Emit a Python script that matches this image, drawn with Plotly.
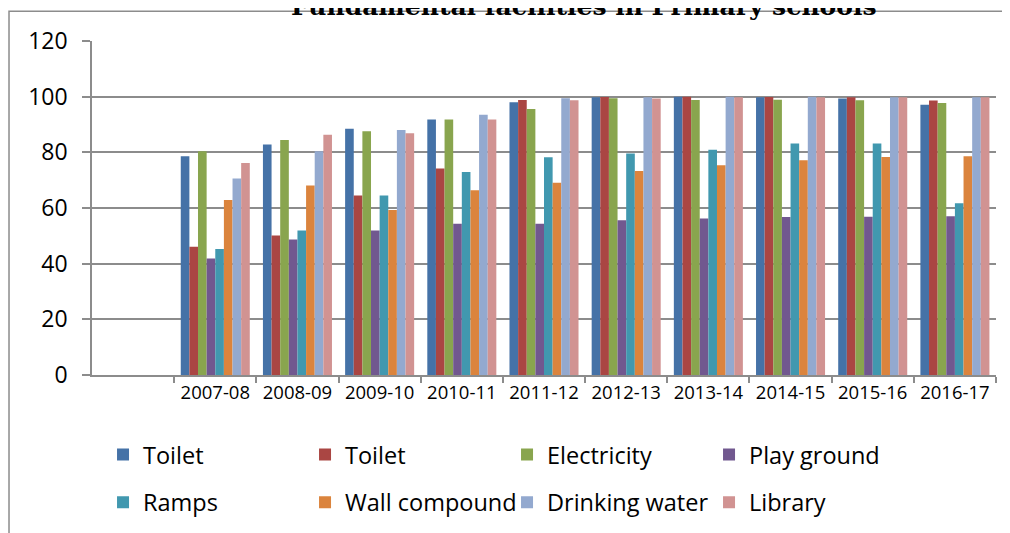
import plotly.graph_objects as go

years = ["2007-08", "2008-09", "2009-10", "2010-11", "2011-12",
         "2012-13", "2013-14", "2014-15", "2015-16", "2016-17"]

toilet_a = [78.6, 82.8, 88.5, 91.8, 98.0, 99.8, 100.0, 99.8, 99.3, 97.1]
toilet_b = [46.1, 50.1, 64.5, 74.2, 98.8, 99.9, 100.0, 99.9, 99.8, 98.6]
electricity = [80.4, 84.4, 87.6, 91.8, 95.6, 99.4, 98.8, 98.9, 98.7, 97.7]
play_ground = [41.9, 48.7, 51.9, 54.3, 54.3, 55.6, 56.2, 56.8, 56.9, 57.0]
ramps = [45.3, 51.9, 64.5, 72.9, 78.2, 79.6, 80.9, 83.2, 83.2, 61.7]
wall_compound = [62.9, 68.1, 59.3, 66.4, 69.1, 73.3, 75.4, 77.2, 78.3, 78.6]
drinking_water = [70.6, 80.4, 88.0, 93.5, 99.4, 99.8, 100.0, 100.0, 99.8, 99.8]
library = [76.2, 86.3, 86.9, 91.8, 98.7, 99.3, 99.8, 99.8, 99.8, 99.8]

series_names = ["Toilet", "Toilet", "Electricity", "Play ground",
                "Ramps", "Wall compound", "Drinking water", "Library"]
series_values = [toilet_a, toilet_b, electricity, play_ground,
                 ramps, wall_compound, drinking_water, library]
colors = ["#4572A7", "#AA4643", "#89A54E", "#71588F",
          "#4198AF", "#DB843D", "#93A9CF", "#D19392"]

title_text = "Fundamental facilities in Primary schools"

FONT = "Open Sans"
GRID = "#8c8c8c"

fig = go.Figure()
for i, (name, vals, col) in enumerate(zip(series_names, series_values, colors)):
    fig.add_trace(go.Bar(
        x=years, y=vals, name=name,
        marker=dict(color=col, line=dict(width=0)),
        legend="legend" if i < 4 else "legend2",
    ))

fig.update_layout(
    width=1010, height=533,
    margin=dict(l=84, r=22, t=33, b=166, autoexpand=False),
    paper_bgcolor="white", plot_bgcolor="white",
    barmode="group", bargap=0.16, bargroupgap=0,
    showlegend=True,
    font=dict(family=FONT, color="black"),
    legend=dict(orientation="h", x=0.0122, xanchor="left", y=-0.173, yanchor="top",
                entrywidth=157, entrywidthmode="pixels",
                font=dict(family=FONT, size=23.5, color="black"),
                bgcolor="rgba(0,0,0,0)", traceorder="normal"),
    legend2=dict(orientation="h", x=0.0122, xanchor="left", y=-0.3155, yanchor="top",
                 entrywidth=157, entrywidthmode="pixels",
                 font=dict(family=FONT, size=23.5, color="black"),
                 bgcolor="rgba(0,0,0,0)", traceorder="normal"),
    xaxis=dict(
        type="category", categoryorder="array", categoryarray=years,
        range=[-1.5, 9.5],
        showline=True, linecolor=GRID, linewidth=1.5,
        ticks="outside", ticklen=6, tickcolor=GRID, tickwidth=1.5,
        tickson="boundaries", showgrid=False,
        tickfont=dict(family=FONT, size=18.5, color="black"),
    ),
    yaxis=dict(
        range=[0, 120], dtick=20, tick0=0,
        showline=True, linecolor=GRID, linewidth=1.5,
        showgrid=True, gridcolor=GRID, gridwidth=1.5,
        zeroline=False,
        ticks="outside", ticklen=8, tickcolor=GRID, tickwidth=1.5,
        tickfont=dict(family=FONT, size=23, color="black"),
        ticklabelstandoff=10,
    ),
)

# outer chart border (cropped at right and bottom)
fig.add_shape(type="rect", xref="paper", yref="paper",
              x0=-0.0918, x1=1.2, y0=-1.0, y1=1.0888,
              line=dict(color=GRID, width=1.5), fillcolor="rgba(0,0,0,0)",
              layer="below")

fig.add_annotation(text="<b>" + title_text + "</b>", xref="paper", yref="paper",
                   x=0.544, y=1.1037, xanchor="center", yanchor="middle",
                   showarrow=False,
                   font=dict(family="DejaVu Serif", size=25, color="black"))

fig.write_html("out.html")
